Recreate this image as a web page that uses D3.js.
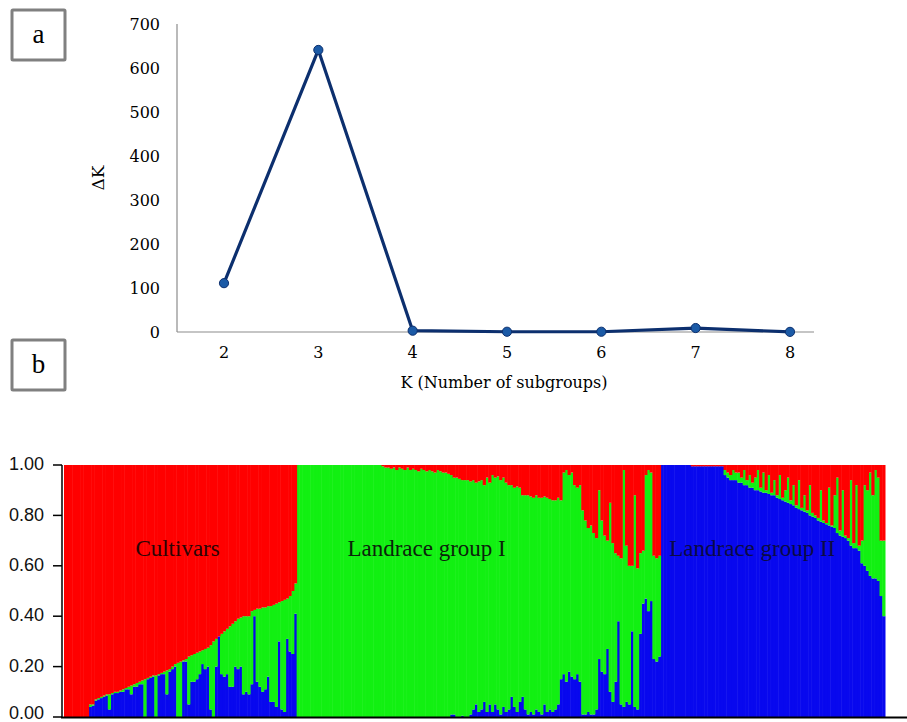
<!DOCTYPE html>
<html>
<head>
<meta charset="utf-8">
<script src="https://cdn.jsdelivr.net/npm/d3@7"></script>
<style>
  body { margin: 0; background: #fff; }
  svg { display: block; }
</style>
</head>
<body>
<svg id="chart" width="907" height="722"></svg>
<script>
// ---- panel a: delta K ----
const kValues = [2, 3, 4, 5, 6, 7, 8];
const deltaK = [111, 641, 3, 0.6, 0.6, 9, 0.3];
const deltaTicks = [0, 100, 200, 300, 400, 500, 600, 700];

// ---- panel b: membership coefficients (one value per individual) ----
// cultivars: red + blue, green is the rest
const cultRed = [1,1,1,1,1,1,1,1,1,
  .95,.95,.93,.925,.92,.915,.91,.91,.905,.90,.90,.895,.89,.885,.88,.875,.87,.865,.86,.855,
  .85,.845,.84,.835,.835,.83,.825,.82,.815,.81,.80,.79,.785,.78,.775,.77,.76,.755,.75,.745,
  .74,.735,.73,.725,.715,.70,.69,.68,.67,.66,.65,.64,.63,.62,.61,.605,.60,.60,.60,.58,
  .575,.57,.57,.565,.565,.56,.56,.555,.55,.545,.54,.535,.53,.52,.50,.47];
const cultBlue = [0,0,0,0,0,0,0,0,0,
  .04,.045,.065,.07,.075,.08,.085,.03,.09,.095,.095,.10,.10,.11,.11,.09,.12,.12,.13,.13,
  0,.15,.155,.16,0,.165,.17,.17,.09,.18,.19,.20,0,0,.22,.22,.05,.14,.14,.15,
  .17,.21,.19,.20,.03,0,.20,.32,.17,.16,.17,.12,.12,.20,.19,.20,.09,.10,.09,.13,
  .40,.14,.12,.10,.11,.16,.06,.06,.04,.30,.03,.02,.31,.26,.25,.41];

// landrace group I: red + blue, green is the rest
const lr1Red = [0,0,0,0,0,0,0,0,0,0,0,0,0,0,0,0,0,0,0,0,0,0,0,0,0,0,0,0,0,0,0,
  .005,.01,.01,.015,.01,.02,.01,.015,.02,.01,.02,.015,.02,.025,.015,.02,.025,.02,.025,.03,
  .02,.025,.03,.03,.035,.04,
  .05,.05,.055,.06,.06,.06,.065,.06,.07,.065,
  .06,.08,.05,.07,
  .04,.05,.045,.06,.05,
  .07,.08,.08,.09,.085,.09,.12,.12,
  .12,.125,.13,.12,.13,.13,.125,.13,
  .135,.14,.14,.13,.14,
  .03,.02,.04,.03,
  .08,.09,.08,.18,
  .22,.25,.24,
  .27,.29,.10,
  .22,.28,.30,.15,.31,
  .35,.36,.37,
  .02,.32,
  .40,.40,.12,.41,
  .35,.34,
  .04,.02,.03,
  .36,.37,.36];
const lr1Blue = [0,0,0,0,0,0,0,0,0,0,0,0,0,0,0,0,0,0,0,0,0,0,0,0,0,0,0,0,0,0,0,
  0,0,0,0,0,0,0,0,0,0,0,0,0,0,0,0,0,0,0,0,0,0,0,0,0,.01,
  .01,0,0,.005,0,0,.01,.03,.05,.02,
  .03,.06,.02,.05,
  .02,.05,.03,.01,.04,
  .02,.03,.08,.04,.02,.06,.08,.03,
  .01,.02,.01,.03,.02,.01,.05,.02,
  .03,.02,.03,.05,.15,
  .17,.14,.18,.16,
  .15,.17,.14,.01,
  .01,.02,.01,
  .01,.03,.23,
  .18,.17,.27,.10,.06,
  .14,.38,.05,
  .04,.06,
  .05,.34,.04,.03,
  .33,.45,
  .47,.42,.46,
  .23,.22,.24];

// landrace group II: red + green, blue is the rest
const lr2Red = [0,0,0,0,0,0,0,0,0,0,0,
  .005,.005,.005,.005,.005,.005,.005,.005,.005,.005,.005,.005,
  .02,.03,.04,.02,.03,
  .03,.05,.02,.06,.04,.07,
  .05,.02,.09,.03,.10,.04,.11,.06,
  .12,.04,.13,.10,.05,.14,.08,
  .16,.06,.17,.12,.18,.08,.19,.20,
  .21,.10,.22,.23,.09,.24,.12,
  .05,.26,.10,.28,.29,
  .06,.31,.08,.32,
  .30,.08,.10,
  .03,.12,.02,.05,
  .30,.30];
const lr2Green = [0,0,0,0,0,0,0,0,0,0,0,
  0,0,0,0,0,0,0,0,0,0,0,0,
  .02,.02,.02,.04,.03,
  .04,.02,.06,.02,.05,.02,
  .05,.08,.015,.08,.01,.075,.01,.06,
  .01,.095,.01,.045,.10,.015,.08,
  .01,.115,.01,.065,.01,.12,.015,.01,
  .01,.125,.01,.005,.15,.005,.13,
  .22,.02,.185,.01,.01,
  .26,.02,.25,.02,
  .09,.32,.32,
  .41,.33,.43,.41,
  .22,.30];

const groupNames = ["Cultivars", "Landrace group I", "Landrace group II"];
const qTicks = [0, 0.2, 0.4, 0.6, 0.8, 1.0];

const colors = { red: "#ff0000", green: "#12f012", blue: "#0808ee" };

// build one row per individual (bottom to top: blue, green, red)
const individuals = [];
cultRed.forEach((r, i) => individuals.push({ red: r, blue: cultBlue[i], green: Math.max(0, 1 - r - cultBlue[i]) }));
lr1Red.forEach((r, i) => individuals.push({ red: r, blue: lr1Blue[i], green: Math.max(0, 1 - r - lr1Blue[i]) }));
lr2Red.forEach((r, i) => individuals.push({ red: r, green: lr2Green[i], blue: Math.max(0, 1 - r - lr2Green[i]) }));

const svg = d3.select("#chart");
const serif = "'Liberation Serif', 'Times New Roman', serif";
const wideSerif = "'DejaVu Serif', serif";

// ---------- panel labels ----------
function panelBox(x, y, letter) {
  svg.append("rect")
    .attr("x", x).attr("y", y).attr("width", 53).attr("height", 50)
    .attr("fill", "#fff").attr("stroke", "#808080").attr("stroke-width", 3).attr("rx", 1);
  svg.append("text")
    .attr("x", x + 26.5).attr("y", y + 33)
    .attr("text-anchor", "middle")
    .style("font-family", serif)
    .style("font-size", "27px")
    .text(letter);
}
panelBox(12, 10, "a");
panelBox(12, 340, "b");

// ---------- panel a ----------
const xK = d3.scalePoint().domain(kValues).range([224, 790]);
const yK = d3.scaleLinear().domain([0, 700]).range([332, 24]);

const gA = svg.append("g");

gA.append("line").attr("x1", 177).attr("x2", 177).attr("y1", yK(700)).attr("y2", yK(0))
  .attr("stroke", "#8c8c8c").attr("stroke-width", 1.2);
gA.append("line").attr("x1", 177).attr("x2", 814).attr("y1", yK(0)).attr("y2", yK(0))
  .attr("stroke", "#8c8c8c").attr("stroke-width", 1.2);

gA.selectAll("text.ytick")
  .data(deltaTicks)
  .enter().append("text")
  .attr("class", "ytick")
  .attr("x", 160)
  .attr("y", d => yK(d))
  .attr("dy", "0.35em")
  .attr("text-anchor", "end")
  .style("font-family", wideSerif)
  .style("font-size", "16px")
  .text(d => d);

gA.selectAll("text.xtick")
  .data(kValues)
  .enter().append("text")
  .attr("class", "xtick")
  .attr("x", d => xK(d))
  .attr("y", 358)
  .attr("text-anchor", "middle")
  .style("font-family", wideSerif)
  .style("font-size", "16px")
  .text(d => d);

gA.append("text")
  .attr("x", 504).attr("y", 388)
  .attr("text-anchor", "middle")
  .style("font-family", wideSerif)
  .style("font-size", "16px")
  .text("K (Number of subgroups)");

gA.append("text")
  .attr("transform", "translate(104,178) rotate(-90)")
  .attr("text-anchor", "middle")
  .style("font-family", wideSerif)
  .style("font-size", "17px")
  .text("ΔK");

const line = d3.line().x((d, i) => xK(kValues[i])).y(d => yK(d));
gA.append("path")
  .datum(deltaK)
  .attr("d", line)
  .attr("fill", "none")
  .attr("stroke", "#0c2f6e")
  .attr("stroke-width", 3.2)
  .attr("stroke-linejoin", "round");

gA.selectAll("circle")
  .data(deltaK)
  .enter().append("circle")
  .attr("cx", (d, i) => xK(kValues[i]))
  .attr("cy", d => yK(d))
  .attr("r", 4.6)
  .attr("fill", "#1b5aa6")
  .attr("stroke", "#0c2f6e")
  .attr("stroke-width", 1);

// ---------- panel b ----------
const xI = d3.scaleBand().domain(d3.range(individuals.length)).range([64, 885]).padding(0);
const yQ = d3.scaleLinear().domain([0, 1]).range([717, 465]);
const bw = xI.bandwidth();

const gB = svg.append("g");

const stack = d3.stack().keys(["blue", "green", "red"]);
const series = stack(individuals);

gB.selectAll("g.layer")
  .data(series)
  .enter().append("g")
  .attr("class", "layer")
  .attr("fill", d => colors[d.key])
  .selectAll("rect")
  .data(d => d.map((v, i) => ({ v, i })))
  .enter().append("rect")
  .attr("x", d => xI(d.i))
  .attr("width", bw + 0.5)
  .attr("y", d => yQ(Math.min(1, d.v[1])))
  .attr("height", d => Math.max(0, yQ(d.v[0]) - yQ(Math.min(1, d.v[1]))));

// axes
gB.append("line").attr("x1", 62).attr("x2", 62).attr("y1", yQ(1)).attr("y2", yQ(0))
  .attr("stroke", "#000").attr("stroke-width", 1.5);
gB.append("line").attr("x1", 61).attr("x2", 907).attr("y1", yQ(0) + 0.5).attr("y2", yQ(0) + 0.5)
  .attr("stroke", "#000").attr("stroke-width", 2.2);

gB.selectAll("line.qtick")
  .data(qTicks)
  .enter().append("line")
  .attr("class", "qtick")
  .attr("x1", 53).attr("x2", 62)
  .attr("y1", d => yQ(d)).attr("y2", d => yQ(d))
  .attr("stroke", "#000").attr("stroke-width", 1.5);

// the bottom label sits against the page edge, so it is nudged up a little
gB.selectAll("text.qtick")
  .data(qTicks)
  .enter().append("text")
  .attr("class", "qtick")
  .attr("x", 44)
  .attr("y", d => Math.min(yQ(d) - 1, 713))
  .attr("dy", "0.34em")
  .attr("text-anchor", "end")
  .style("font-family", "'Liberation Sans', Arial, sans-serif")
  .style("font-size", "18px")
  .style("fill", "#111")
  .text(d => d3.format(".2f")(d));

// group labels placed over a chosen individual of each group
const labelAt = [41, 132, 251];
const labelFill = ["#2a0505", "#0b230b", "#0b0b45"];
gB.selectAll("text.group")
  .data(groupNames)
  .enter().append("text")
  .attr("class", "group")
  .attr("x", (d, i) => xI(labelAt[i]) + bw / 2)
  .attr("y", 556)
  .attr("text-anchor", "middle")
  .style("font-family", serif)
  .style("font-size", "23px")
  .style("fill", (d, i) => labelFill[i])
  .text(d => d);
</script>
</body>
</html>
